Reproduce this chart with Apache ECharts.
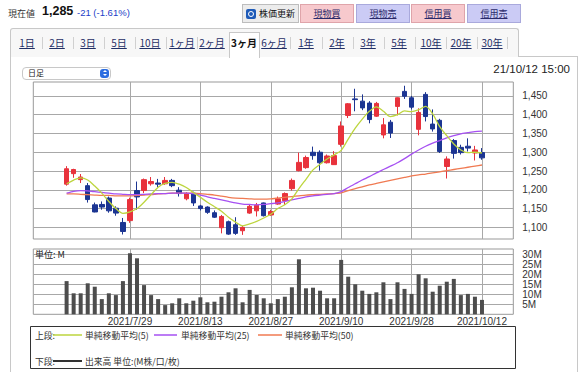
<!DOCTYPE html>
<html><head><meta charset="utf-8">
<script src="https://cdn.jsdelivr.net/npm/echarts@6/dist/echarts.min.js"></script>
<style>
body{margin:0;width:586px;height:372px;overflow:hidden;background:#fff;font-family:"Liberation Sans","Noto Sans CJK JP",sans-serif;position:relative;color:#222}
.a{position:absolute;white-space:nowrap}
.btn{position:absolute;top:4px;height:17px;border:1px solid #c9a0a4;font-size:9px;line-height:17px;text-align:center;font-family:"Noto Sans CJK JP",sans-serif}
.btn span{text-decoration:underline;color:#2a2a6a}
.pk{background:#f7c9cd;border-color:#dfa4aa}
.lv{background:#cbcbf5;border-color:#a9a9dc}
.tab{position:absolute;top:36px;font-size:10px;line-height:14px;transform:translateX(-50%);text-decoration:underline;color:#1f2f66;font-family:"Noto Sans CJK JP",sans-serif}
.sep{position:absolute;top:37px;width:1px;height:12px;background:#d0d0d0}
#c{position:absolute;left:0;top:0;width:586px;height:372px;z-index:2}
</style></head><body>
<div class="a" style="left:10px;top:56px;width:566px;height:330px;border:1px solid #c8c8c8;background:#fff"></div>
<div class="a" style="left:10px;top:28px;width:507px;height:28px;border:1px solid #c8c8c8;border-bottom:none;background:#f7f7f7;border-radius:3px 3px 0 0"></div>
<div class="a" style="left:229px;top:32px;width:29px;height:25px;border:1px solid #c8c8c8;border-bottom:none;background:#fff;z-index:1"></div>

<div class="a" style="left:8px;top:7px;font-size:9px;font-family:'Noto Sans CJK JP';color:#333">現在値</div>
<div class="a" style="left:42px;top:4px;font-size:12.5px;font-weight:bold;color:#111">1,285</div>
<div class="a" style="left:77px;top:7px;font-size:9.5px;color:#2240c8">-21 (-1.61%)</div>

<div class="btn" style="left:242px;width:55px;background:#ececec;border-color:#bdbdbd;text-align:left">
  <div style="position:absolute;left:3px;top:4px;width:10px;height:10px;background:#1f5bb8;border-radius:2px"></div>
  <div style="position:absolute;left:5px;top:5.5px;width:4px;height:4px;border:1.2px solid #fff;border-radius:50%"></div>
  <span style="position:absolute;left:16px;text-decoration:none;color:#111">株価更新</span>
</div>
<div class="btn pk" style="left:300px;width:52px"><span>現物買</span></div>
<div class="btn lv" style="left:356px;width:52px"><span>現物売</span></div>
<div class="btn pk" style="left:411px;width:52px"><span>信用買</span></div>
<div class="btn lv" style="left:467px;width:52px"><span>信用売</span></div>

<div id="tabs"></div>

<div class="a" style="left:22px;top:67px;width:87px;height:11px;border:1px solid #c8c8c8;border-radius:4px;background:#fff;z-index:1">
  <span style="position:absolute;left:5px;top:-1px;font-size:8px;line-height:12px;font-family:'Noto Sans CJK JP'">日足</span>
  <div style="position:absolute;right:1px;top:1px;width:9px;height:9px;background:#2b6de0;border-radius:3px">
    <div style="position:absolute;left:2.5px;top:1px;border-left:2px solid transparent;border-right:2px solid transparent;border-bottom:2.5px solid #fff"></div>
    <div style="position:absolute;left:2.5px;top:5px;border-left:2px solid transparent;border-right:2px solid transparent;border-top:2.5px solid #fff"></div>
  </div>
</div>
<div class="a" style="right:16px;top:63px;font-size:11.5px;color:#222;z-index:1">21/10/12 15:00</div>

<div id="c"></div>
<script>
// ---------------- data ----------------
const tabLabels = ["1日","2日","3日","5日","10日","1ヶ月","2ヶ月","3ヶ月","6ヶ月","1年","2年","3年","5年","10年","20年","30年"];
const selectedTab = "3ヶ月";

const dates = [
 "2021/7/14","2021/7/15","2021/7/16","2021/7/19","2021/7/20","2021/7/21","2021/7/26","2021/7/27","2021/7/28","2021/7/29","2021/7/30",
 "2021/8/2","2021/8/3","2021/8/4","2021/8/5","2021/8/6","2021/8/10","2021/8/11","2021/8/12","2021/8/13","2021/8/16","2021/8/17","2021/8/18","2021/8/19","2021/8/20","2021/8/23","2021/8/24","2021/8/25","2021/8/26","2021/8/27","2021/8/30","2021/8/31",
 "2021/9/1","2021/9/2","2021/9/3","2021/9/6","2021/9/7","2021/9/8","2021/9/9","2021/9/10","2021/9/13","2021/9/14","2021/9/15","2021/9/16","2021/9/17","2021/9/21","2021/9/22","2021/9/24","2021/9/27","2021/9/28","2021/9/29","2021/9/30",
 "2021/10/1","2021/10/4","2021/10/5","2021/10/6","2021/10/7","2021/10/8","2021/10/11","2021/10/12"
];
// [open, close, low, high]
const ohlc = [
 [1215,1256,1211,1263],[1243,1254,1232,1256],[1227,1234,1218,1242],[1211,1174,1166,1218],[1160,1141,1140,1166],
 [1161,1154,1147,1169],[1178,1144,1139,1182],[1151,1138,1131,1156],[1113,1089,1081,1125],[1118,1174,1112,1179],
 [1198,1181,1147,1222],[1198,1227,1191,1230],[1216,1222,1211,1234],[1218,1215,1207,1229],[1216,1225,1213,1234],
 [1225,1211,1207,1229],[1199,1190,1182,1207],[1176,1190,1172,1194],[1191,1165,1157,1195],[1157,1150,1145,1160],
 [1154,1140,1136,1156],[1139,1127,1125,1145],[1099,1129,1084,1133],[1115,1082,1080,1118],[1107,1084,1080,1127],
 [1091,1100,1080,1104],[1138,1156,1136,1160],[1144,1159,1129,1165],[1165,1131,1129,1166],[1133,1142,1131,1147],
 [1162,1176,1160,1182],[1171,1190,1160,1193],[1203,1225,1198,1230],[1251,1273,1249,1299],[1259,1286,1256,1291],
 [1300,1291,1280,1315],[1300,1272,1251,1305],[1272,1290,1270,1294],[1267,1291,1266,1303],[1321,1370,1315,1382],
 [1398,1429,1391,1431],[1442,1440,1409,1469],[1436,1418,1412,1454],[1431,1387,1377,1436],[1396,1430,1394,1434],
 [1346,1373,1337,1391],[1380,1351,1338,1386],[1422,1445,1398,1446],[1462,1449,1442,1477],[1445,1420,1414,1450],
 [1361,1406,1345,1417],[1454,1395,1382,1460],[1375,1362,1355,1414],[1385,1302,1298,1389],[1262,1282,1230,1289],
 [1331,1297,1283,1335],[1313,1299,1294,1320],[1316,1311,1302,1337],[1298,1306,1278,1317],[1299,1285,1280,1311]
];
const ma5 = [1216,1226,1232,1226,1210,1191,1169,1150,1137,1141,1150,1167,1187,1207,1217,1220,1215,1206,1193,1180,
 1167,1155,1143,1127,1114,1104,1109,1116,1125,1135,1150,1160,1176,1203,1228,1253,1268,1282,1293,1305,
 1335,1364,1388,1409,1421,1409,1395,1400,1410,1408,1413,1422,1402,1368,1344,1322,1306,1299,1300,1298];
const ma25 = [1191,1196,1198,1197,1195,1193,1191,1189,1188,1187,1187,1188,1189,1190,1190,1191,1191,1191,1190,1186,
 1181,1177,1173,1169,1165,1162,1161,1160,1161,1163,1165,1169,1173,1177,1181,1184,1186,1188,1190,1195,
 1206,1216,1226,1235,1245,1254,1263,1272,1283,1295,1306,1316,1324,1331,1338,1344,1349,1352,1355,1356];
const ma50 = [1189,1189,1188,1187,1186,1185,1185,1184,1184,1184,1185,1186,1187,1189,1190,1191,1191,1191,1191,1190,
 1188,1186,1183,1180,1178,1177,1176,1175,1175,1176,1178,1180,1182,1184,1186,1187,1188,1189,1190,1192,
 1198,1203,1208,1213,1217,1221,1225,1229,1233,1237,1240,1242,1245,1248,1251,1254,1257,1260,1263,1266];
const volume = [16.6,10.5,10.5,15.5,13.8,7.6,10.5,9.6,16.6,30.5,28,14.6,9.6,7.6,4.6,5.5,8,5.5,6.8,8.5,
 6,6.3,8.8,11,13,6,12.2,9.6,8,5.5,7.6,8.8,13.5,27.5,13,13.3,11.8,8,8,27.2,
 18.8,15,11.8,10.2,11,16,7.6,16,12.7,10.2,20,18,11.3,14.3,16.3,17.7,9.6,10.2,8.8,7.2];
const priceTicks = [1100,1150,1200,1250,1300,1350,1400,1450];
const volumeTicks = [5,10,15,20,25,30];
const dateTickIdx = [9,19,29,39,49,59];
const legendTop = ["単純移動平均(5)","単純移動平均(25)","単純移動平均(50)"];
const legendBottom = "出来高 単位:(M株/口/枚)";

// ---------------- tabs (html) ----------------
const tabX = [27,57,88,119,150,182,212,244,274,306,337,368,399,431,461,492];
const tabsEl = document.getElementById('tabs');
tabLabels.forEach((t,i)=>{
  const d=document.createElement('div');
  d.className='tab'; d.textContent=t; d.style.left=tabX[i]+'px';
  if(t===selectedTab){d.style.textDecoration='none';d.style.fontWeight='bold';d.style.color='#111';d.style.zIndex=3;}
  tabsEl.appendChild(d);
  const next = tabLabels[i+1];
  if(t!==selectedTab && next!==selectedTab){
    const s=document.createElement('div'); s.className='sep';
    s.style.left=(next? (tabX[i]+tabX[i+1])/2 : 507)+'px';
    tabsEl.appendChild(s);
  }
});

// ---------------- chart ----------------
const FONT = '"Liberation Sans","Noto Sans CJK JP",sans-serif';
const CJK = '"Noto Sans CJK JP",sans-serif';
const LF = '8.8px '+CJK;
const C_UP='#e8323c', C_DN='#1c3592', C_MA5='#bdd53e', C_MA25='#a650f2', C_MA50='#f07a52';
const X0=-4.73, X1=63.45;
const chart = echarts.init(document.getElementById('c'), null, {renderer:'svg', width:586, height:372});
const gridLine = {show:true, lineStyle:{color:'#a8a8a8', width:1}};
const legendY1 = 335, legendY2 = 361;
chart.setOption({
  animation:false,
  backgroundColor:'transparent',
  textStyle:{fontFamily:FONT},
  grid:[
    {left:33.3, right:72.7, top:82, height:157, show:true, backgroundColor:'#fff', borderColor:'#999', borderWidth:1},
    {left:33.3, right:72.7, top:249, height:65.3, show:true, backgroundColor:'#fff', borderColor:'#999', borderWidth:1}
  ],
  xAxis:[
    {type:'value', gridIndex:0, min:X0, max:X1, axisLine:{show:false}, axisLabel:{show:false},
     axisTick:{show:false, customValues:dateTickIdx}, splitLine:gridLine},
    {type:'value', gridIndex:1, min:X0, max:X1, axisLine:{show:false},
     axisTick:{show:false, customValues:dateTickIdx},
     axisLabel:{customValues:dateTickIdx, formatter:v=>dates[Math.round(v)], fontSize:10, color:'#333', margin:2},
     splitLine:gridLine}
  ],
  yAxis:[
    {type:'value', gridIndex:0, position:'right', min:1069, max:1487, axisLine:{show:false},
     axisTick:{show:false, customValues:priceTicks},
     axisLabel:{customValues:priceTicks, formatter:v=>v.toLocaleString('en-US'), fontSize:10, color:'#333', margin:9},
     splitLine:gridLine},
    {type:'value', gridIndex:1, position:'right', min:0, max:32.65, axisLine:{show:false},
     axisTick:{show:false, customValues:volumeTicks},
     axisLabel:{customValues:volumeTicks, formatter:v=>v+'M', fontSize:10, color:'#333', margin:9},
     splitLine:gridLine}
  ],
  series:[
    {type:'candlestick', xAxisIndex:0, yAxisIndex:0, barWidth:5,
     data: ohlc.map((d,i)=>[i,d[0],d[1],d[2],d[3]]),
     itemStyle:{color:C_UP, color0:C_DN, borderColor:C_UP, borderColor0:C_DN, borderWidth:1}, z:2},
    {type:'line', xAxisIndex:0, yAxisIndex:0, data:ma50.map((v,i)=>[i,v]), showSymbol:false, smooth:0.2,
     lineStyle:{color:C_MA50, width:1.3}, z:3},
    {type:'line', xAxisIndex:0, yAxisIndex:0, data:ma25.map((v,i)=>[i,v]), showSymbol:false, smooth:0.2,
     lineStyle:{color:C_MA25, width:1.3}, z:3},
    {type:'line', xAxisIndex:0, yAxisIndex:0, data:ma5.map((v,i)=>[i,v]), showSymbol:false, smooth:0.3,
     lineStyle:{color:C_MA5, width:1.3}, z:3},
    {type:'bar', xAxisIndex:1, yAxisIndex:1, barWidth:4, data:volume.map((v,i)=>[i,v]),
     itemStyle:{color:'#4d4d4d'}}
  ],
  graphic:[
    {type:'text', left:35, top:250, z:10, style:{text:'単位: M', font:'9px '+CJK, fill:'#222'}},
    {type:'rect', shape:{x:30.5,y:326.5,width:485,height:42}, style:{fill:'#fff', stroke:'#333', lineWidth:1}},
    {type:'text', x:35, y:legendY1, style:{text:'上段:', font:LF, fill:'#333', verticalAlign:'middle'}},
    {type:'line', shape:{x1:53,y1:legendY1,x2:82,y2:legendY1}, style:{stroke:C_MA5, lineWidth:1.5}},
    {type:'text', x:85, y:legendY1, style:{text:legendTop[0], font:LF, fill:'#333', verticalAlign:'middle'}},
    {type:'line', shape:{x1:154,y1:legendY1,x2:177,y2:legendY1}, style:{stroke:C_MA25, lineWidth:1.5}},
    {type:'text', x:181, y:legendY1, style:{text:legendTop[1], font:LF, fill:'#333', verticalAlign:'middle'}},
    {type:'line', shape:{x1:258,y1:legendY1,x2:282,y2:legendY1}, style:{stroke:C_MA50, lineWidth:1.5}},
    {type:'text', x:285, y:legendY1, style:{text:legendTop[2], font:LF, fill:'#333', verticalAlign:'middle'}},
    {type:'text', x:35, y:legendY2, style:{text:'下段:', font:LF, fill:'#333', verticalAlign:'middle'}},
    {type:'line', shape:{x1:53,y1:legendY2,x2:82,y2:legendY2}, style:{stroke:'#333', lineWidth:2}},
    {type:'text', x:85, y:legendY2, style:{text:legendBottom, font:LF, fill:'#333', verticalAlign:'middle'}}
  ]
});
</script>
</body></html>
